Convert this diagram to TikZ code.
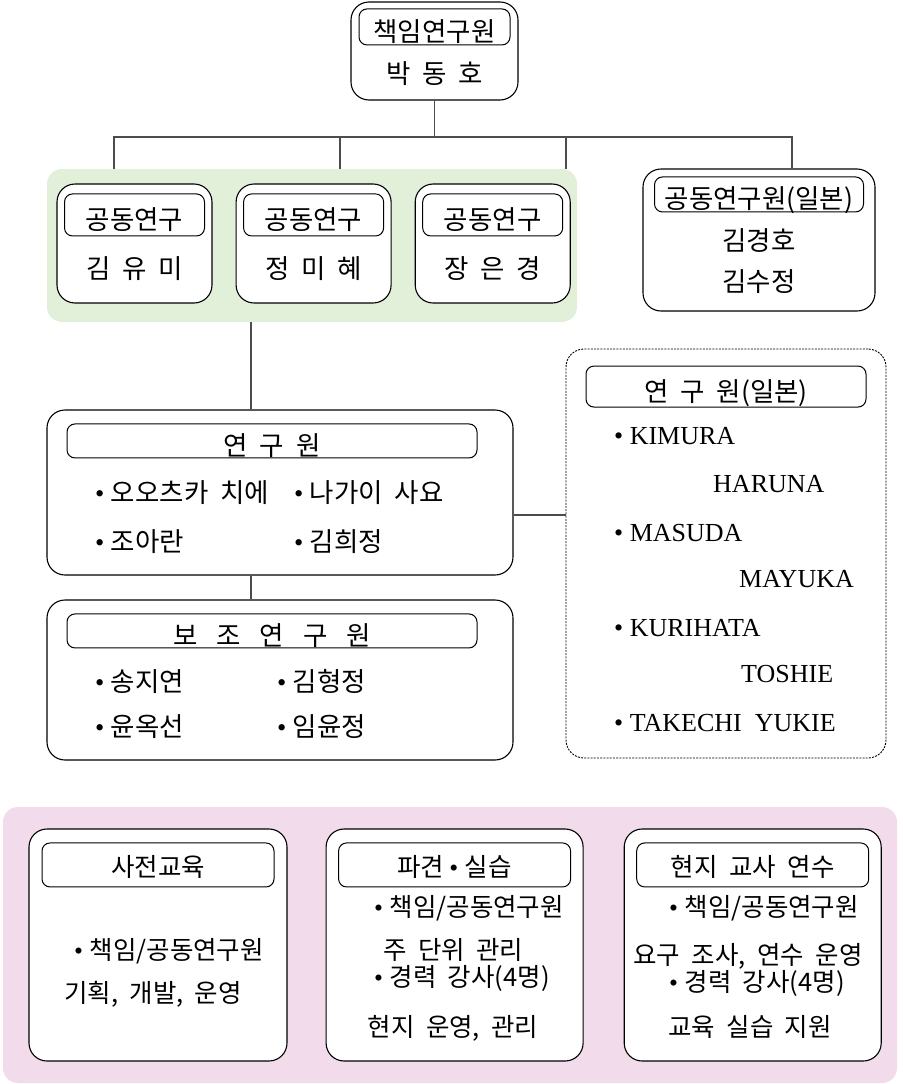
\documentclass[tikz,border=0pt]{standalone}
\usepackage{fontspec}
\setmainfont{Noto Sans CJK KR}[WordSpace=2.0]
\newfontfamily\latinfont{Liberation Serif}
\usepackage{tikz}
\usetikzlibrary{positioning}
\definecolor{teamgreen}{HTML}{E2EFD9}
\definecolor{edupink}{HTML}{F2DCEC}
\newcommand{\bul}{{\latinfont •}\hspace{6.5pt}}

\begin{document}
\begin{tikzpicture}[x=1pt,y=-1pt,
  every node/.style={font=\fontsize{26.5}{30}\selectfont,inner sep=0pt,text height=19pt,text depth=0pt},
  main box/.style={draw,line width=1.1pt,rounded corners=18pt,fill=white},
  tag box/.style={draw,line width=1pt,rounded corners=8pt,text height=29pt},
  edu text/.style={font=\fontsize{25.5}{30}\selectfont,text height=18.4pt},
  low tag/.style={tag box,edu text,text height=22.4pt},
  back box/.style={rounded corners=15pt},
  item/.style={anchor=west},
  latin item/.style={anchor=west,font=\fontsize{26}{30}\latinfont},
  link/.style={draw=black!70,line width=1.2pt}]
  \useasboundingbox (0,0) rectangle (902,1084);

  % head of the team
  \node[main box,minimum width=167pt,minimum height=98pt] (chief) at (434.5,51) {};
  \node[tag box,minimum width=151pt,minimum height=36pt,below=7pt of chief.north] (chieftag) {책임연구원};
  \node (chiefname) at ([yshift=-73pt]chief.north) {박 동 호};

  % co-researchers
  \node[back box,fill=teamgreen,minimum width=530pt,minimum height=153pt] (team) at (312,245.5) {};
  \node[main box,minimum width=155pt,minimum height=119pt] (co1) at (134.5,243.5) {};
  \node[main box,minimum width=155pt,minimum height=119pt,right=23pt of co1] (co2) {};
  \node[main box,minimum width=155pt,minimum height=119pt,right=23pt of co2] (co3) {};
  \node[tag box,minimum width=140pt,minimum height=42pt,below=10pt of co1.north] (co1tag) {공동연구};
  \node[tag box,minimum width=140pt,minimum height=42pt,below=10pt of co2.north] (co2tag) {공동연구};
  \node[tag box,minimum width=140pt,minimum height=42pt,below=10pt of co3.north] (co3tag) {공동연구};
  \node (co1name) at ([yshift=-86pt]co1.north) {김 유 미};
  \node (co2name) at ([yshift=-86pt]co2.north) {정 미 혜};
  \node (co3name) at ([yshift=-86pt]co3.north) {장 은 경};

  % co-researchers in japan
  \node[main box,minimum width=232pt,minimum height=142pt] (jp) at (759,240) {};
  \node[tag box,minimum width=209pt,minimum height=35pt,below=8pt of jp.north] (jptag) {공동연구원(일본)};
  \node (jpname1) at ([yshift=-73pt]jp.north) {김경호};
  \node (jpname2) at ([yshift=-114pt]jp.north) {김수정};

  % researchers
  \node[main box,minimum width=466pt,minimum height=165pt] (res) at (280,492.5) {};
  \node[tag box,minimum width=410pt,minimum height=34pt,below=14pt of res.north,xshift=-8pt] (restag) {연 구 원};
  \node[item] (res1) at (95,493) {\bul 오오츠카 치에};
  \node[item] (res2) at (294,493) {\bul 나가이 사요};
  \node[item] (res3) at (95,542) {\bul 조아란};
  \node[item] (res4) at (294,542) {\bul 김희정};

  % assistants
  \node[main box,minimum width=466pt,minimum height=160pt] (asst) at (280,680) {};
  \node[tag box,minimum width=410pt,minimum height=34pt,below=14pt of asst.north,xshift=-8pt] (assttag) {보\hspace{19pt}조\hspace{19pt}연\hspace{19pt}구\hspace{19pt}원};
  \node[item] (asst1) at (95,682) {\bul 송지연};
  \node[item] (asst2) at (277,682) {\bul 김형정};
  \node[item] (asst3) at (95,727) {\bul 윤옥선};
  \node[item] (asst4) at (277,727) {\bul 임윤정};

  % researchers in japan
  \node[main box,dash pattern=on 2pt off 1.2pt,line width=0.9pt,minimum width=320pt,minimum height=409pt] (jres) at (726,553.5) {};
  \node[tag box,minimum width=280pt,minimum height=41pt,below=17pt of jres.north] (jrestag) {연 구 원(일본)};
  \node[latin item] (jres1) at (614,435) {• KIMURA};
  \node[latin item] (jres2) at (713,483) {HARUNA};
  \node[latin item] (jres3) at (614,532) {• MASUDA};
  \node[latin item] (jres4) at (739,578) {MAYUKA};
  \node[latin item] (jres5) at (614,627) {• KURIHATA};
  \node[latin item] (jres6) at (741,673) {TOSHIE};
  \node[latin item] (jres7) at (614,722) {• TAKECHI\ \ YUKIE};

  % education
  \node[back box,fill=edupink,minimum width=894pt,minimum height=276pt] (edu) at (450,945) {};
  \node[main box,minimum width=258pt,minimum height=232pt] (pre) at (158,945) {};
  \node[main box,minimum width=257pt,minimum height=232pt,right=38pt of pre] (field) {};
  \node[main box,minimum width=257pt,minimum height=232pt,right=40pt of field] (local) {};
  \node[low tag,minimum width=232pt,minimum height=44pt,below=14pt of pre.north] (pretag) {사전교육};
  \node[low tag,minimum width=232pt,minimum height=44pt,below=14pt of field.north] (fieldtag) {파견\hspace{5pt}\bul 실습};
  \node[low tag,minimum width=232pt,minimum height=44pt,below=14pt of local.north] (localtag) {현지 교사 연수};
  \node[item,edu text] (pre1) at (74,950) {\bul 책임/공동연구원};
  \node[edu text] (pre2) at (153,993) {기획, 개발, 운영};
  \node[item,edu text] (field1) at (374,907) {\bul 책임/공동연구원};
  \node[item,edu text] (field2) at (383,950) {주 단위 관리};
  \node[item,edu text] (field3) at (374,977) {\bul 경력 강사(4명)};
  \node[edu text] (field4) at (453,1027) {현지 운영, 관리};
  \node[item,edu text] (local1) at (669,907) {\bul 책임/공동연구원};
  \node[edu text] (local2) at (748,955) {요구 조사, 연수 운영};
  \node[item,edu text] (local3) at (669,982) {\bul 경력 강사(4명)};
  \node[edu text] (local4) at (750,1027) {교육 실습 지원};

  % connectors
  \coordinate (bus) at (0,137);
  \coordinate (t1) at (114,0);
  \coordinate (t2) at (340,0);
  \coordinate (t3) at (566,0);
  \coordinate (t4) at (792,0);
  \coordinate (drop) at (251,0);
  \draw[link] (chief.south) -- (chief.south |- bus);
  \draw[link] (team.north -| t1) -- (t1 |- bus) -- (t4 |- bus) -- (jp.north -| t4);
  \draw[link] (team.north -| t2) -- (t2 |- bus);
  \draw[link] (team.north -| t3) -- (t3 |- bus);
  \draw[link] (team.south -| drop) -- (res.north -| drop);
  \draw[link] (res.south -| drop) -- (asst.north -| drop);
  \draw[link] ([yshift=-22.5pt]res.east) -- ([yshift=-22.5pt]res.east -| jres.west);
\end{tikzpicture}
\end{document}
